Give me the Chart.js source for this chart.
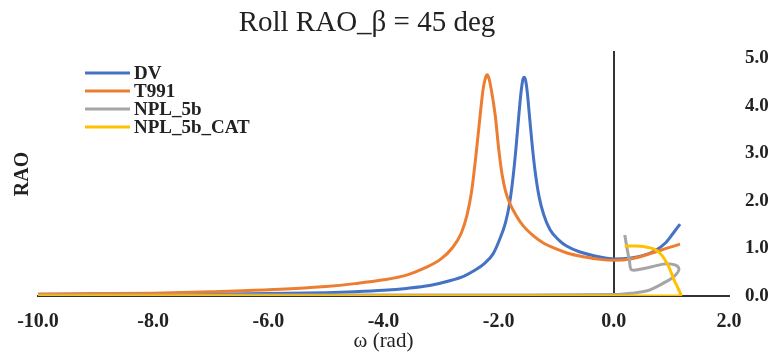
<!DOCTYPE html>
<html lang="en">
<head>
  <meta charset="UTF-8">
  <title>Roll RAO</title>
  <script src="https://cdn.jsdelivr.net/npm/chart.js"></script>
  <style>
    body {
      margin: 0;
      padding: 0;
      background-color: #ffffff;
    }
    .wrap {
      width: 777px;
      height: 354px;
    }
  </style>
</head>
<body>
  <div class="wrap">
    <canvas id="raoChart" width="777" height="354"></canvas>
  </div>
  <script>
    // Values
    const dvX = [-10, -9, -8, -7, -6, -5, -4.5, -4.0, -3.6, -3.2, -2.85, -2.6, -2.4, -2.25, -2.1, -1.98, -1.88, -1.81, -1.75, -1.70, -1.65, -1.61, -1.58, -1.555, -1.53, -1.50, -1.47, -1.42, -1.37, -1.30, -1.22, -1.11, -0.95, -0.82, -0.6, -0.24, 0, 0.3, 0.5, 0.7, 0.9, 1.03, 1.15];
    const dvY = [0.02, 0.02, 0.03, 0.04, 0.05, 0.07, 0.09, 0.12, 0.16, 0.22, 0.32, 0.42, 0.55, 0.68, 0.88, 1.2, 1.55, 1.95, 2.5, 3.1, 3.8, 4.3, 4.55, 4.6, 4.52, 4.25, 3.85, 3.2, 2.65, 2.1, 1.72, 1.4, 1.17, 1.05, 0.93, 0.82, 0.78, 0.8, 0.85, 0.94, 1.12, 1.32, 1.51];

    const t991X = [-10, -9, -8, -7, -6, -5, -4.5, -4.0, -3.6, -3.3, -3.0, -2.8, -2.65, -2.55, -2.47, -2.40, -2.33, -2.27, -2.23, -2.20, -2.17, -2.13, -2.06, -2.0, -1.94, -1.88, -1.8, -1.7, -1.57, -1.4, -1.23, -1.0, -0.8, -0.5, -0.24, 0, 0.33, 0.68, 0.91, 1.15];
    const t991Y = [0.04, 0.05, 0.06, 0.09, 0.13, 0.2, 0.26, 0.34, 0.44, 0.58, 0.78, 1.02, 1.32, 1.7, 2.2, 2.9, 3.7, 4.35, 4.58, 4.65, 4.58, 4.35, 3.8, 3.1, 2.55, 2.2, 1.93, 1.7, 1.47, 1.27, 1.12, 0.99, 0.9, 0.82, 0.77, 0.75, 0.79, 0.91, 1.0, 1.09];

    const nplX = [-10, -6, -3, 0, 0.33, 0.5, 0.63, 0.86, 1.0, 1.08, 1.13, 1.1, 1.0, 0.86, 0.57, 0.31, 0.27, 0.23, 0.19];
    const nplY = [0.02, 0.02, 0.02, 0.03, 0.06, 0.09, 0.13, 0.27, 0.37, 0.45, 0.55, 0.63, 0.67, 0.67, 0.59, 0.55, 0.75, 1.0, 1.28];

    const catX = [-10, 1.15, 1.12, 1.06, 1.0, 0.94, 0.83, 0.71, 0.51, 0.34, 0.19];
    const catY = [0, 0, 0.15, 0.30, 0.48, 0.65, 0.86, 0.98, 1.04, 1.05, 1.05];

    const seriesNames = ['DV', 'T991', 'NPL_5b', 'NPL_5b_CAT'];
    const seriesColors = ['#4472C4', '#ED7D31', '#A5A5A5', '#FFC000'];

    const xTicks = [-10, -8, -6, -4, -2, 0, 2];
    const yTicks = [0, 1, 2, 3, 4, 5];

    const chartTitle = 'Roll RAO_β = 45 deg';
    const serif = "'Liberation Serif', 'Times New Roman', serif";
    const textColor = '#222';

    function toPoints(xs, ys) {
      return xs.map((x, i) => ({ x: x, y: ys[i] }));
    }

    const allSeries = [
      toPoints(dvX, dvY),
      toPoints(t991X, t991Y),
      toPoints(nplX, nplY),
      toPoints(catX, catY)
    ];

    // title and legend are drawn by hand so they can sit where Excel put them
    const extras = {
      id: 'extras',
      afterDraw(chart) {
        const ctx = chart.ctx;
        ctx.save();
        ctx.fillStyle = textColor;
        ctx.textAlign = 'center';
        ctx.textBaseline = 'middle';
        ctx.font = '29px ' + serif;
        ctx.fillText(chartTitle, 367, 23);

        ctx.textAlign = 'left';
        ctx.font = 'bold 19px ' + serif;
        chart.data.datasets.forEach((ds, i) => {
          const y = 73 + i * 18;
          ctx.strokeStyle = ds.borderColor;
          ctx.lineWidth = 3;
          ctx.beginPath();
          ctx.moveTo(85, y);
          ctx.lineTo(130, y);
          ctx.stroke();
          ctx.fillText(ds.label, 134, y + 1);
        });
        ctx.restore();
      }
    };

    const yRange = { min: 0, max: 5.13 };

    const ctx = document.getElementById('raoChart').getContext('2d');
    const chart = new Chart(ctx, {
      type: 'scatter',
      data: {
        datasets: allSeries.map((pts, i) => ({
          label: seriesNames[i],
          data: pts,
          showLine: true,
          borderColor: seriesColors[i],
          backgroundColor: seriesColors[i],
          borderWidth: 3,
          pointRadius: 0,
          tension: 0.3,
          cubicInterpolationMode: i < 2 ? 'monotone' : 'default',
          order: 4 - i
        }))
      },
      options: {
        responsive: false,
        animation: false,
        layout: { padding: { top: 52 } },
        plugins: {
          legend: { display: false },
          tooltip: { enabled: false },
          title: { display: false }
        },
        scales: {
          x: {
            type: 'linear',
            min: -10,
            max: 2,
            afterBuildTicks: s => { s.ticks = xTicks.map(v => ({ value: v })); },
            afterFit: s => { s.height = 58; },
            grid: { display: false, drawTicks: false },
            border: { display: true, color: '#333', width: 2 },
            ticks: {
              padding: 14,
              color: textColor,
              font: { family: serif, size: 20, weight: 'bold' },
              callback: v => v.toFixed(1)
            },
            title: {
              display: true,
              text: 'ω (rad)',
              color: textColor,
              font: { family: serif, size: 21 },
              padding: { top: 0, bottom: 0 }
            }
          },
          y: {
            type: 'linear',
            position: 'right',
            min: yRange.min,
            max: yRange.max,
            afterBuildTicks: s => { s.ticks = yTicks.map(v => ({ value: v })); },
            afterFit: s => { s.width = 48; },
            grid: { display: false, drawTicks: false },
            border: { display: false },
            ticks: {
              padding: 16,
              color: textColor,
              font: { family: serif, size: 19, weight: 'bold' },
              callback: v => v.toFixed(1)
            }
          },
          yl: {
            type: 'linear',
            axis: 'y',
            position: 'left',
            min: yRange.min,
            max: yRange.max,
            afterFit: s => { s.width = 38; },
            grid: { display: false, drawTicks: false },
            border: { display: false },
            ticks: { display: false },
            title: {
              display: true,
              text: 'RAO',
              color: textColor,
              font: { family: serif, size: 20, weight: 'bold' },
              padding: { top: 11, bottom: 0 }
            }
          },
          y0: {
            type: 'linear',
            axis: 'y',
            position: { x: 0 },
            min: yRange.min,
            max: yRange.max,
            grid: { display: false, drawTicks: false },
            border: { display: true, color: '#333', width: 2 },
            ticks: { display: false }
          }
        }
      },
      plugins: [extras]
    });
  </script>
</body>
</html>
